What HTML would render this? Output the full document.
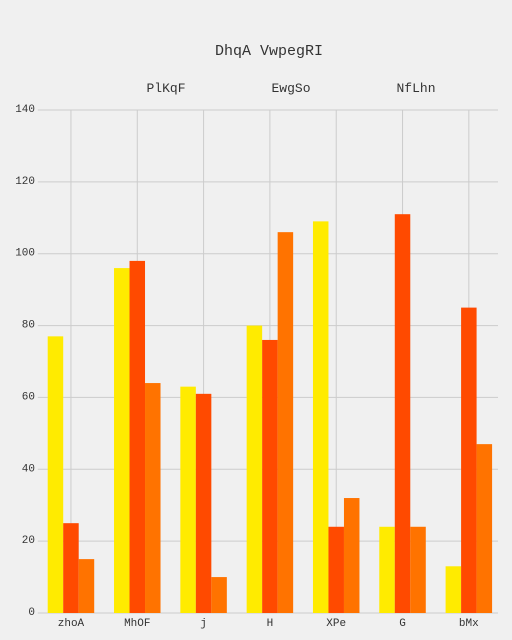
<!DOCTYPE html>
<html><head><meta charset="utf-8"><style>
html,body{margin:0;background:#f0f0f0;overflow:hidden;width:512px;height:640px;}
svg{display:block;}
svg text{font-family:"Liberation Mono",monospace;fill:#333;}
</style></head><body>
<svg width="512" height="640" id="c">
<rect width="512" height="640" fill="#f0f0f0"/>
<text x="269" y="55" font-size="15" text-anchor="middle">DhqA VwpegRI</text>
<g id="legend"></g>
<g id="grid"></g>
<g id="bars"></g>
<g id="axes"></g>
</svg>
<script>
const categories=["zhoA","MhOF","j","H","XPe","G","bMx"];
const seriesNames=["PlKqF","EwgSo","NfLhn"];
const s1=[77,96,63,80,109,24,13];
const s2=[25,98,61,76,24,111,85];
const s3=[15,64,10,106,32,24,47];
const yTicks=[0,20,40,60,80,100,120,140];
const series=[s1,s2,s3];
const colors=["#ffeb00","#ff4a00","#ff7300"];
const NS="http://www.w3.org/2000/svg";
const L=37.8,R=502,GR=498,T=110,B=613,ymax=140;
const band=(R-L)/categories.length;
const y=v=>B-(v/ymax)*(B-T);
const x=i=>L+i*band;
function mk(tag,attrs,parent){const e=document.createElementNS(NS,tag);for(const k in attrs)e.setAttribute(k,attrs[k]);document.getElementById(parent).appendChild(e);return e;}
yTicks.forEach(t=>{
 const g=mk('line',{x1:L,x2:GR,y1:y(t),y2:y(t),stroke:'#cccccc','stroke-width':1},'grid');
 
 
 const tx=mk('text',{x:35,y:y(t)+2,'font-size':11,'text-anchor':'end'},'axes');
 tx.textContent=t;
 
 
});
categories.forEach((c,i)=>{
 const cx=x(i)+band/2;
 const g=mk('line',{x1:cx,x2:cx,y1:T,y2:B,stroke:'#cccccc','stroke-width':1},'grid');
 
 
 const tx=mk('text',{x:cx,y:626,'font-size':11,'text-anchor':'middle'},'axes');
 tx.textContent=c;
 
 
 const bw=15.5;
 series.forEach((s,j)=>{
  const r=mk('rect',{x:cx-1.5*bw+j*bw,y:y(s[i]),width:bw,height:B-y(s[i]),fill:colors[j]},'bars');
  
  
 });
});
const lx=[166,291,416];
seriesNames.forEach((n,j)=>{
 const t=mk('text',{x:lx[j],y:92,'font-size':13,'text-anchor':'middle'},'legend');
 t.textContent=n;
 
 
});
</script>
</body></html>
